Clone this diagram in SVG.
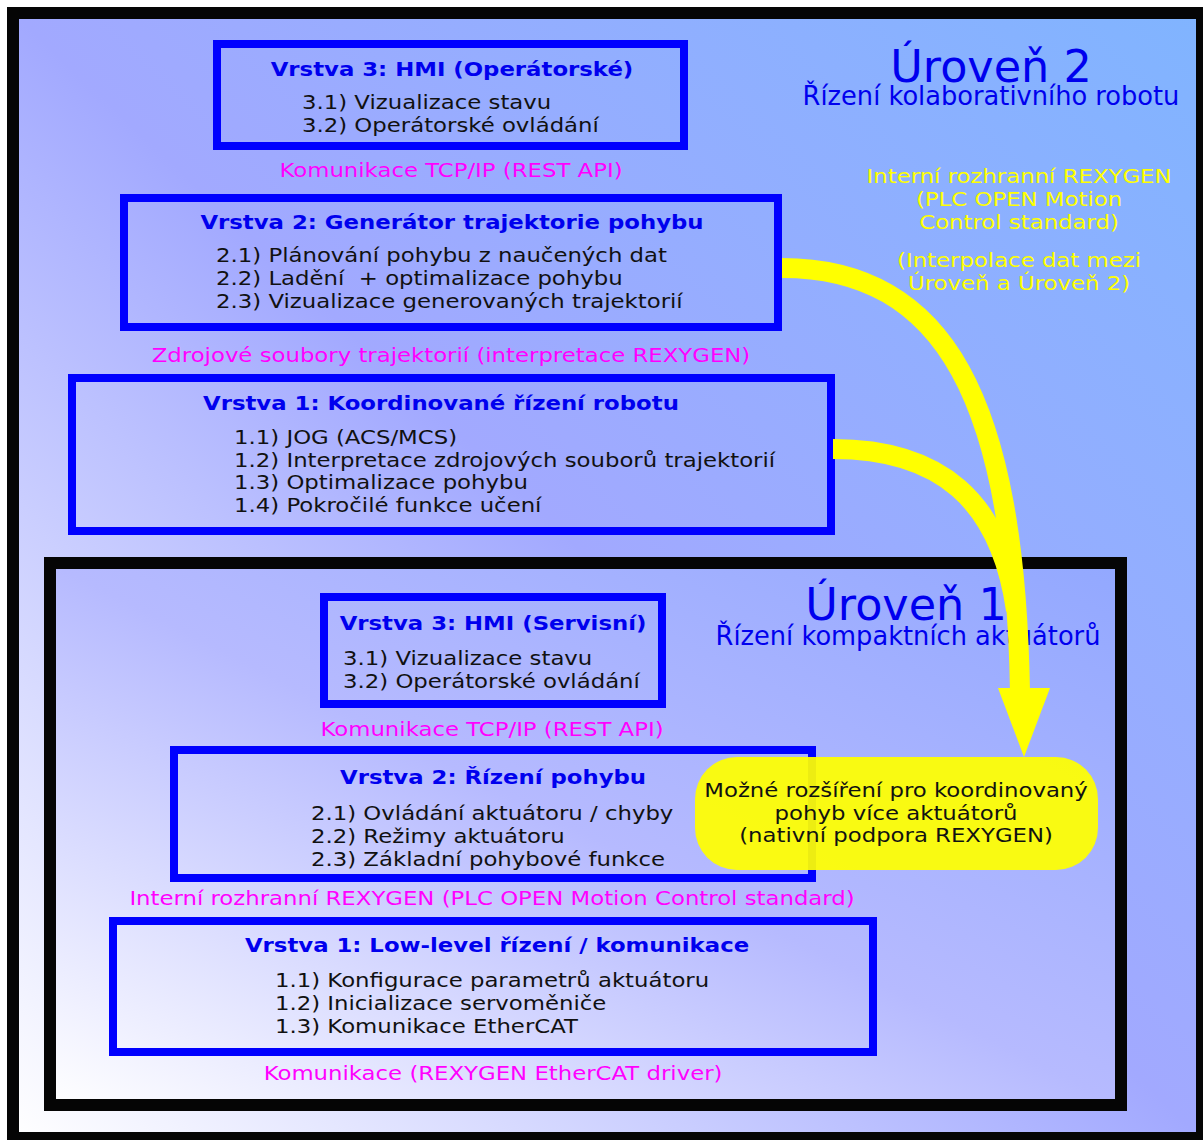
<svg xmlns="http://www.w3.org/2000/svg" width="1203" height="1140" viewBox="0 0 1203 1140">
<defs>
<linearGradient id="gOuter" x1="0" y1="1" x2="1" y2="0">
<stop offset="0" stop-color="#ffffff"/>
<stop offset="0.5" stop-color="#a2a9ff"/>
<stop offset="1" stop-color="#80b4ff"/>
</linearGradient>
<linearGradient id="gInner" x1="0" y1="1" x2="1" y2="0">
<stop offset="0" stop-color="#ffffff"/>
<stop offset="0.5" stop-color="#b6baff"/>
<stop offset="1" stop-color="#92a8ff"/>
</linearGradient>
<style>
.frame{stroke:#050505;stroke-width:12}
.box{fill:none;stroke:#0000ff;stroke-width:8}
.t{font-family:"DejaVu Sans","Liberation Sans",sans-serif;font-size:20px}
.title{font-weight:bold;fill:#0000ee;text-anchor:middle}
.body{fill:#111111}
.pink{fill:#ff00ff;text-anchor:middle}
.yel{fill:#ffff00;text-anchor:middle}
.lvl{fill:#0000ee;text-anchor:middle}
.big{font-size:44.5px}
.sub{font-size:25.7px}
.arrow{fill:none;stroke:#ffff00;stroke-width:20}
</style>
</defs>
<g id="level2">
<rect class="frame" x="13" y="13" width="1189" height="1125" fill="url(#gOuter)"/>
<text class="t lvl big" x="991" y="82">Úroveň 2</text>
<text class="t lvl sub" x="991" y="105">Řízení kolaborativního robotu</text>
<g transform="scale(1.14,1)">
<text class="t yel" x="893.9" y="183">Interní rozhranní REXYGEN</text>
<text class="t yel" x="893.9" y="206">(PLC OPEN Motion</text>
<text class="t yel" x="893.9" y="229">Control standard)</text>
<text class="t yel" x="893.9" y="267">(Interpolace dat mezi</text>
<text class="t yel" x="893.9" y="290">Úroveň a Úroveň 2)</text>
</g>
</g>
<g id="l2-v3">
<rect class="box" x="217" y="44" width="467" height="102"/>
<g transform="scale(1.14,1)">
<text class="t title" x="396.5" y="76">Vrstva 3: HMI (Operátorské)</text>
<text class="t body" x="264.9" y="109">3.1) Vizualizace stavu</text>
<text class="t body" x="264.9" y="132">3.2) Operátorské ovládání</text>
<text class="t pink" x="395.6" y="177">Komunikace TCP/IP (REST API)</text>
</g>
</g>
<g id="l2-v2">
<rect class="box" x="124" y="198" width="654" height="129"/>
<g transform="scale(1.14,1)">
<text class="t title" x="396.5" y="229">Vrstva 2: Generátor trajektorie pohybu</text>
<text class="t body" x="189.5" y="262">2.1) Plánování pohybu z naučených dat</text>
<text class="t body" x="189.5" y="285" xml:space="preserve">2.2) Ladění  + optimalizace pohybu</text>
<text class="t body" x="189.5" y="308">2.3) Vizualizace generovaných trajektorií</text>
<text class="t pink" x="395.6" y="362">Zdrojové soubory trajektorií (interpretace REXYGEN)</text>
</g>
</g>
<g id="l2-v1">
<rect class="box" x="72" y="378" width="759" height="153"/>
<g transform="scale(1.14,1)">
<text class="t title" x="386.8" y="410">Vrstva 1: Koordinované řízení robotu</text>
<text class="t body" x="205.3" y="444">1.1) JOG (ACS/MCS)</text>
<text class="t body" x="205.3" y="467">1.2) Interpretace zdrojových souborů trajektorií</text>
<text class="t body" x="205.3" y="489">1.3) Optimalizace pohybu</text>
<text class="t body" x="205.3" y="512">1.4) Pokročilé funkce učení</text>
</g>
</g>
<g id="level1">
<rect class="frame" x="50" y="563" width="1071" height="542" fill="url(#gInner)"/>
<text class="t lvl big" x="906" y="620">Úroveň 1</text>
<text class="t lvl sub" x="908" y="645">Řízení kompaktních aktuátorů</text>
</g>
<g id="l1-v3">
<rect class="box" x="324" y="597" width="338" height="107"/>
<g transform="scale(1.14,1)">
<text class="t title" x="432.5" y="630">Vrstva 3: HMI (Servisní)</text>
<text class="t body" x="300.9" y="665">3.1) Vizualizace stavu</text>
<text class="t body" x="300.9" y="688">3.2) Operátorské ovládání</text>
<text class="t pink" x="431.6" y="736">Komunikace TCP/IP (REST API)</text>
</g>
</g>
<g id="l1-v2">
<rect class="box" x="174" y="750" width="638" height="128"/>
<g transform="scale(1.14,1)">
<text class="t title" x="432.5" y="784">Vrstva 2: Řízení pohybu</text>
<text class="t body" x="272.8" y="820">2.1) Ovládání aktuátoru / chyby</text>
<text class="t body" x="272.8" y="843">2.2) Režimy aktuátoru</text>
<text class="t body" x="272.8" y="866">2.3) Základní pohybové funkce</text>
<text class="t pink" x="431.6" y="905">Interní rozhranní REXYGEN (PLC OPEN Motion Control standard)</text>
</g>
</g>
<g id="l1-v1">
<rect class="box" x="113" y="921" width="760" height="131"/>
<g transform="scale(1.14,1)">
<text class="t title" x="436" y="952">Vrstva 1: Low-level řízení / komunikace</text>
<text class="t body" x="241.2" y="987">1.1) Konfigurace parametrů aktuátoru</text>
<text class="t body" x="241.2" y="1010">1.2) Inicializace servoměniče</text>
<text class="t body" x="241.2" y="1033">1.3) Komunikace EtherCAT</text>
<text class="t pink" x="432.5" y="1080">Komunikace (REXYGEN EtherCAT driver)</text>
</g>
</g>
<g id="connectors">
<path class="arrow" d="M782,268 C945,268 1015,400 1020,692"/>
<path class="arrow" d="M833,449 C940,449 1000,500 1016,610"/>
<polygon points="998,688 1050,688 1024,757" fill="#ffff00"/>
</g>
<g id="extension">
<rect x="695" y="757" width="403" height="113" rx="42" ry="42" fill="#ffff00" fill-opacity="0.93"/>
<g transform="scale(1.14,1)">
<text class="t body" x="786" y="797" text-anchor="middle">Možné rozšíření pro koordinovaný</text>
<text class="t body" x="786" y="820" text-anchor="middle">pohyb více aktuátorů</text>
<text class="t body" x="786" y="842" text-anchor="middle">(nativní podpora REXYGEN)</text>
</g>
</g>
</svg>
